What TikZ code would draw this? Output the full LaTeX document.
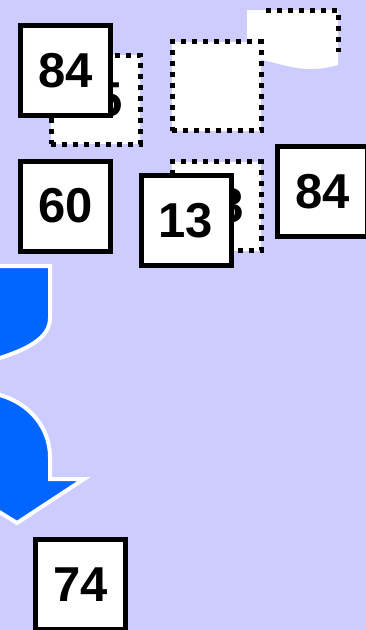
\documentclass[tikz,border=0pt]{standalone}
\usepackage{fontspec}
\setmainfont{Liberation Sans}
\definecolor{bg}{HTML}{CCCCFF}
\definecolor{arrowblue}{HTML}{0066FF}
\begin{document}
\begin{tikzpicture}[x=1pt,y=-1pt,
  numfont/.style={font=\fontsize{49}{59}\selectfont\bfseries},
  solidbox/.style={draw=black, fill=white, line width=5pt, minimum size=90pt, inner sep=0pt, numfont},
  dotbox/.style={draw=black, fill=white, line width=5pt, dash pattern=on 5pt off 6pt, minimum size=89pt, inner sep=0pt, numfont},
  bluepiece/.style={fill=arrowblue, draw=white, line width=4pt, line join=miter},
  dotline/.style={draw=black, line width=5pt, dash pattern=on 5pt off 6pt}]
\fill[bg] (0,0) rectangle (366,630);
\useasboundingbox (0,0) rectangle (366,630);

% top-right white shape with wavy bottom
\fill[white] (247,10) -- (338,10) -- (338,65)
  .. controls (330,67) and (322,69) .. (310,69)
  .. controls (295,69) and (280,64) .. (263,60) -- (247,57) -- cycle;
\coordinate (tA) at (266,10);
\coordinate (tB) at (338,10);
\coordinate (tC) at (338,52);
\draw[dotline] (tA) -- (tB) -- (tC);

% dotted boxes
\node[dotbox] (d3) at (216.5,86) {};
\node[dotbox] (d2) at (95.5,99.5) {55};
\node[dotbox] (d6) at (216.5,206) {38};

% solid boxes
\node[solidbox] (b84a) at (65.5,70.5) {84};
\node[solidbox] (b60) at (65.5,206) {60};
\node[solidbox] (b13) at (186,220.5) {13};
\node[solidbox] (b84b) at (322.5,191.5) {84};

% blue arrow pieces
\path[bluepiece] (-10,266) -- (50,266) -- (50,318)
  .. controls (50,338) and (28,350) .. (-10,361) -- cycle;
\path[bluepiece] (-10,393)
  .. controls (25,398) and (50,425) .. (50,457)
  -- (50,479) -- (84,479) -- (17,523) -- (-54,479) -- cycle;

\node[solidbox] (b74) at (80.5,584.5) {74};
\end{tikzpicture}
\end{document}
